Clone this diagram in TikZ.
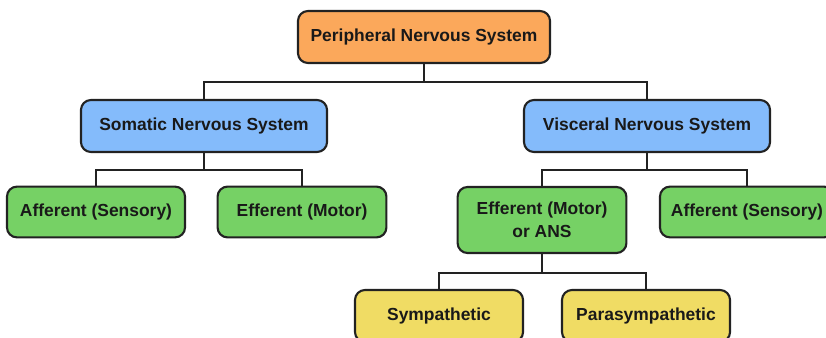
\documentclass[tikz,border=0pt]{standalone}
\usepackage{fontspec}
\setmainfont{Liberation Sans}
\usepackage{tikz}
\usetikzlibrary{positioning}
\definecolor{pnsorange}{HTML}{FBA85B}
\definecolor{sysblue}{HTML}{84BBFB}
\definecolor{branchgreen}{HTML}{76D165}
\definecolor{ansyellow}{HTML}{F0DC64}
\definecolor{edgegray}{HTML}{222222}
\tikzset{
  link/.style={draw=edgegray, line width=1.7pt},
  boxnode/.style={draw=edgegray, line width=1.5pt, rounded corners=0.25cm, align=center, text=black!90, font=\bfseries\fontsize{12.4}{16}\selectfont, inner sep=0pt},
  pnsnode/.style={boxnode, fill=pnsorange, minimum width=6.3cm, minimum height=1.3cm},
  sysnode/.style={boxnode, fill=sysblue, minimum width=6.15cm, minimum height=1.3cm},
  branchnode/.style={boxnode, fill=branchgreen, minimum width=4.3cm, minimum height=1.27cm},
  ansnode/.style={boxnode, fill=ansyellow, minimum width=4.2cm, minimum height=1.3cm}
}
\begin{document}
\begin{tikzpicture}[x=0.025cm, y=-0.025cm]
  \path[fill=white, use as bounding box] (0,0) rectangle (826,337);
  % top level
  \node[pnsnode] (pns) at (424,37) {Peripheral Nervous System};
  \node[sysnode] (som) at (204,126) {Somatic Nervous System};
  \node[sysnode] (vis) at (647,126) {Visceral Nervous System};
  % somatic branches
  \node[branchnode, minimum width=4.45cm] (saff) at (96,212) {Afferent (Sensory)};
  \node[branchnode, minimum width=4.22cm] (seff) at (302,212) {Efferent (Motor)};
  % visceral branches
  \node[branchnode, minimum width=4.22cm, minimum height=1.65cm] (veff) at (542,220) {Efferent (Motor)\\or ANS};
  \node[branchnode, minimum width=4.35cm] (vaff) at (747,212) {Afferent (Sensory)};
  % autonomic
  \node[ansnode] (sym) at (439,316) {Sympathetic};
  \node[ansnode] (para) at (646,316) {Parasympathetic};
  % connectors
  \draw[link] (pns.south) -- ++(0,18) -| (som.north);
  \draw[link] (pns.south) -- ++(0,18) -| (vis.north);
  \draw[link] (som.south) -- ++(0,17) -| (saff.north);
  \draw[link] (som.south) -- ++(0,17) -| (seff.north);
  \draw[link] (vis.south) -- ++(0,17) -| (veff.north);
  \draw[link] (vis.south) -- ++(0,17) -| (vaff.north);
  \draw[link] (veff.south) -- ++(0,19) -| (sym.north);
  \draw[link] (veff.south) -- ++(0,19) -| (para.north);
\end{tikzpicture}
\end{document}
